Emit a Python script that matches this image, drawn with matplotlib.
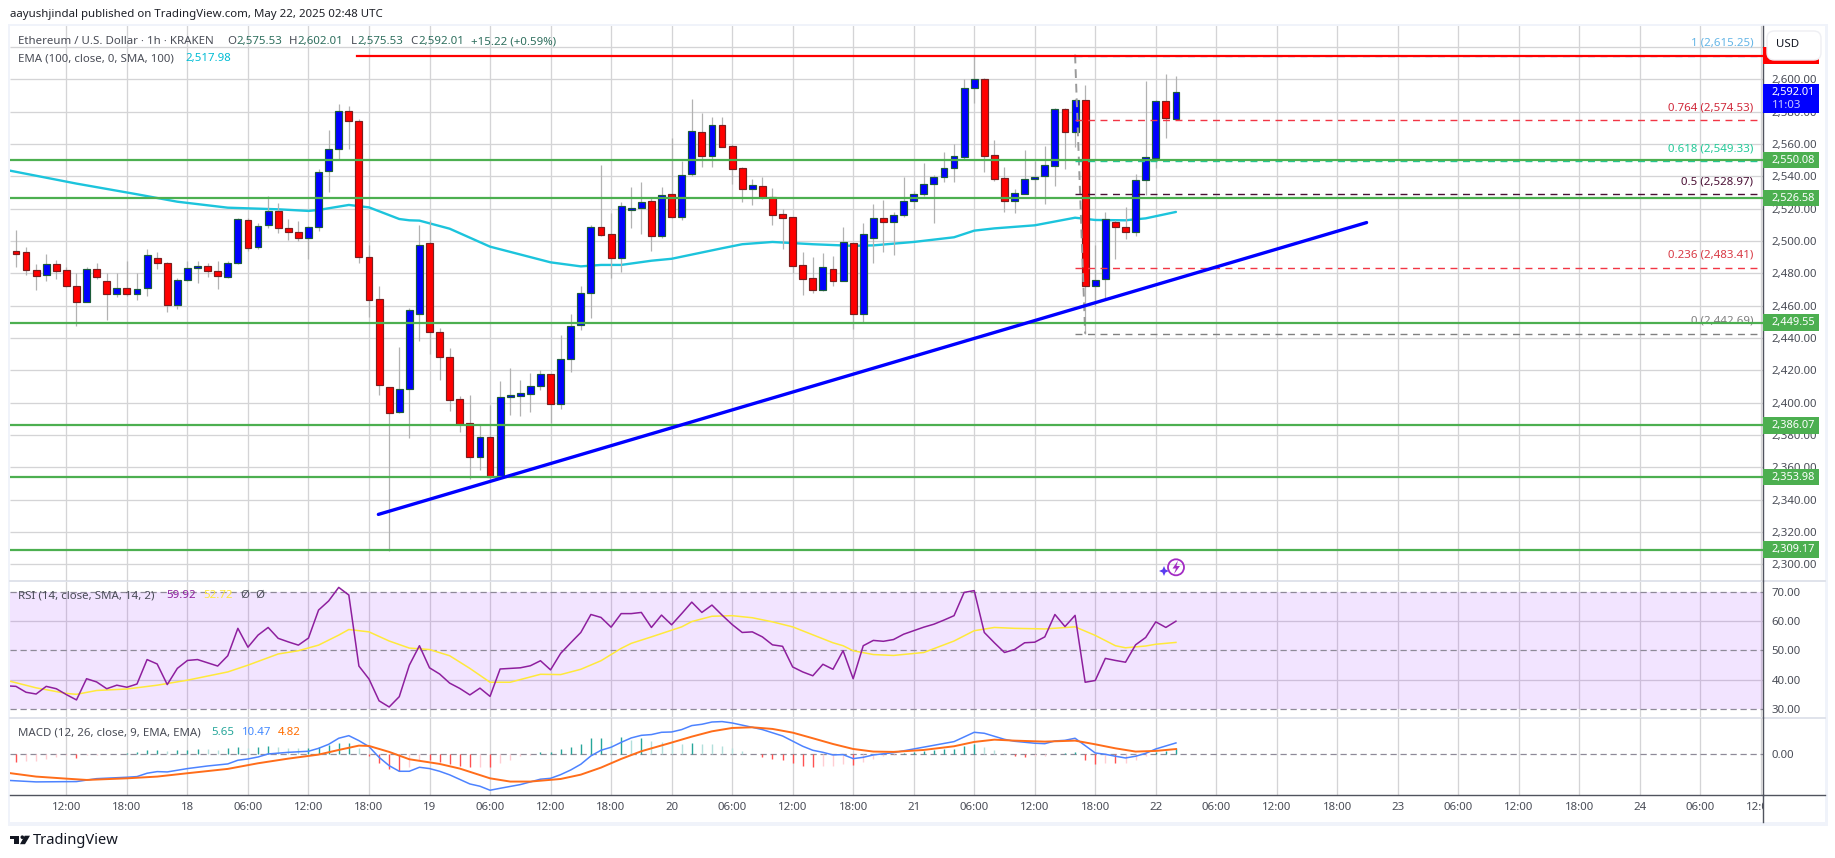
import numpy as np
import matplotlib
matplotlib.use("Agg")
import matplotlib.pyplot as plt
from matplotlib.patches import Rectangle, FancyBboxPatch, Ellipse, Polygon
from matplotlib.lines import Line2D
from matplotlib.transforms import blended_transform_factory

plt.rcParams['font.family'] = ['Noto Sans', 'DejaVu Sans']

W, H = 1835, 858

# hourly bars, hour 0 is May 17 12:00
bar_hours = np.arange(-5, 111)
bar_open = [
    2493.6, 2493.0, 2481.9, 2478.8, 2485.6, 2481.9, 2472.1, 2462.5, 2482.5, 2475.0,
    2467.4, 2470.7, 2467.4, 2470.7, 2489.3, 2486.2, 2460.6, 2475.7, 2483.1, 2484.3,
    2481.2, 2477.5, 2486.2, 2512.8, 2496.1, 2509.7, 2518.4, 2507.8, 2505.4, 2501.6,
    2508.5, 2543.1, 2556.7, 2580.2, 2574.0, 2489.9, 2463.9, 2409.5, 2394.4, 2408.2,
    2455.0, 2498.6, 2443.5, 2428.0, 2402.0, 2387.2, 2366.6, 2378.6, 2354.2, 2403.3,
    2404.3, 2405.6, 2410.1, 2417.5, 2399.4, 2427.2, 2447.8, 2467.6, 2508.5, 2504.1,
    2489.3, 2519.0, 2520.6, 2524.5, 2502.9, 2528.9, 2514.6, 2541.2, 2567.2, 2552.8,
    2571.5, 2558.6, 2544.9, 2532.4, 2533.8, 2527.0, 2516.5, 2514.6, 2484.9, 2476.9,
    2469.5, 2482.5, 2475.5, 2498.6, 2454.6, 2502.1, 2514.0, 2512.0, 2515.9, 2524.5,
    2529.3, 2535.1, 2539.4, 2544.9, 2551.8, 2594.4, 2600.0, 2553.0, 2538.8, 2525.0,
    2529.3, 2538.1, 2540.2, 2546.6, 2581.4, 2567.6, 2587.0, 2472.4, 2476.3, 2512.0,
    2508.9, 2505.8, 2537.5, 2551.5, 2586.4, 2575.53]
bar_high = [
    2506.8, 2496.3, 2485.6, 2492.0, 2488.0, 2484.1, 2480.0, 2484.0, 2486.2, 2480.0,
    2480.0, 2487.6, 2480.0, 2495.0, 2493.2, 2487.0, 2477.0, 2487.6, 2487.6, 2486.2,
    2487.4, 2487.4, 2514.0, 2514.0, 2510.9, 2527.8, 2523.3, 2513.4, 2512.2, 2509.0,
    2544.3, 2568.7, 2584.5, 2583.3, 2575.3, 2497.5, 2472.4, 2410.0, 2434.4, 2458.5,
    2509.9, 2513.0, 2446.0, 2433.6, 2404.0, 2404.7, 2386.2, 2398.6, 2413.4, 2421.4,
    2414.0, 2418.1, 2420.2, 2418.0, 2441.9, 2454.8, 2472.2, 2510.0, 2546.8, 2517.1,
    2524.3, 2533.4, 2536.3, 2527.0, 2533.4, 2563.5, 2549.5, 2587.6, 2579.0, 2576.5,
    2576.5, 2560.0, 2546.0, 2538.1, 2539.8, 2532.8, 2519.6, 2515.0, 2493.2, 2490.1,
    2492.6, 2490.7, 2508.7, 2499.0, 2511.1, 2522.9, 2525.2, 2518.0, 2539.6, 2531.0,
    2548.0, 2540.8, 2555.0, 2559.8, 2600.0, 2615.25, 2600.6, 2562.5, 2545.6, 2532.2,
    2556.3, 2549.5, 2558.8, 2582.0, 2582.0, 2588.0, 2596.5, 2497.5, 2517.7, 2513.0,
    2520.8, 2541.2, 2599.0, 2587.0, 2603.3, 2602.01]
bar_low = [
    2484.1, 2479.2, 2469.9, 2475.5, 2476.7, 2471.5, 2447.6, 2462.0, 2476.5, 2451.3,
    2465.6, 2466.0, 2463.7, 2466.0, 2482.5, 2456.3, 2458.0, 2475.0, 2474.2, 2477.5,
    2470.5, 2477.0, 2486.0, 2494.0, 2495.0, 2508.0, 2504.7, 2500.4, 2499.8, 2488.7,
    2506.4, 2530.5, 2550.5, 2556.9, 2486.2, 2453.2, 2404.7, 2308.4, 2393.5, 2378.4,
    2438.4, 2430.1, 2414.0, 2395.0, 2382.0, 2353.0, 2358.4, 2352.5, 2353.0, 2392.4,
    2392.0, 2394.4, 2407.8, 2387.2, 2396.3, 2419.2, 2445.0, 2452.6, 2503.0, 2476.9,
    2481.0, 2508.2, 2504.3, 2494.0, 2502.0, 2514.0, 2513.2, 2540.0, 2546.0, 2546.0,
    2558.0, 2535.3, 2524.1, 2522.3, 2526.0, 2509.9, 2495.0, 2480.0, 2466.8, 2468.0,
    2469.0, 2472.4, 2475.0, 2445.4, 2450.1, 2486.6, 2493.2, 2491.5, 2515.0, 2520.0,
    2527.8, 2511.3, 2536.7, 2536.7, 2551.0, 2585.2, 2542.9, 2537.0, 2518.1, 2517.5,
    2529.0, 2527.0, 2523.1, 2534.2, 2544.5, 2558.4, 2442.69, 2460.0, 2464.5, 2488.9,
    2501.2, 2503.3, 2528.5, 2545.2, 2563.9, 2575.53]
bar_close = [
    2492.2, 2481.9, 2478.1, 2485.6, 2481.2, 2472.0, 2462.5, 2482.5, 2477.5, 2467.4,
    2470.7, 2467.4, 2470.1, 2491.1, 2486.2, 2460.6, 2475.7, 2483.1, 2484.3, 2481.2,
    2478.1, 2486.2, 2513.4, 2495.5, 2509.1, 2518.4, 2507.8, 2505.4, 2501.6, 2508.5,
    2542.5, 2556.7, 2580.2, 2574.0, 2489.9, 2463.7, 2411.1, 2393.8, 2408.2, 2457.1,
    2497.3, 2443.9, 2428.5, 2401.9, 2386.8, 2366.6, 2378.6, 2354.2, 2403.3, 2404.5,
    2405.8, 2410.1, 2417.5, 2399.4, 2426.8, 2447.2, 2467.6, 2508.5, 2503.9, 2489.3,
    2521.4, 2520.6, 2523.9, 2502.9, 2528.2, 2514.6, 2540.6, 2567.8, 2552.8, 2571.5,
    2558.4, 2544.7, 2532.4, 2534.4, 2527.0, 2516.3, 2514.4, 2484.7, 2476.3, 2469.9,
    2483.7, 2475.5, 2499.2, 2454.6, 2504.1, 2514.0, 2512.0, 2515.9, 2524.5, 2529.3,
    2535.1, 2539.6, 2544.9, 2552.4, 2594.4, 2600.0, 2552.8, 2538.1, 2525.0, 2529.5,
    2538.1, 2539.4, 2546.8, 2581.4, 2567.6, 2587.0, 2472.4, 2475.7, 2513.4, 2508.9,
    2505.8, 2537.5, 2551.8, 2586.4, 2576.3, 2592.01]

ema_hours = [-6, 1, 7, 11, 16, 21, 24, 25, 28, 30, 33, 34, 35, 38, 42, 48, 51, 53, 55, 58,
             60, 65, 67, 70, 74, 78, 80, 84, 88, 90, 92, 96, 100, 102, 105, 107, 110]
ema_values = [2544.0, 2535.5, 2528.9, 2524.3, 2520.6, 2519.6, 2518.6, 2519.2, 2522.3, 2520.8,
              2513.6, 2512.8, 2512.6, 2507.6, 2496.5, 2486.8, 2484.3, 2485.2, 2485.2, 2487.8,
              2489.0, 2495.5, 2498.0, 2499.4, 2498.0, 2497.0, 2497.3, 2499.4, 2502.3, 2506.4,
              2507.8, 2509.7, 2514.4, 2513.0, 2512.8, 2514.0, 2517.98]

support_levels = [2550.08, 2526.58, 2449.55, 2386.07, 2353.98, 2309.17]
resistance_level = 2614.6
trend_hours = [30.93, 128.9]
trend_prices = [2330.9, 2511.4]

fib_ratios = ['1', '0.764', '0.618', '0.5', '0.236', '0']
fib_prices = [2615.25, 2574.53, 2549.33, 2528.97, 2483.41, 2442.69]
fib_colors = ['#64b5e6', '#f23645', '#22c997', '#4a1035', '#f23645', '#808080']
fib_text_colors = ['#64b5e6', '#d0283a', '#22c997', '#4a1035', '#d83a45', '#808080']

rsi_hours = np.arange(-6, 111)
rsi_values = [
    38.0, 37.8, 35.8, 35.2, 37.8, 37.0, 35.0, 33.2, 40.4, 39.3, 37.0, 38.2, 37.5, 38.6, 46.9, 45.4,
    38.4, 43.9, 46.6, 46.9, 45.8, 44.7, 48.2, 57.5, 51.1, 55.2, 57.8, 54.1, 52.9, 51.8, 54.2, 63.7,
    66.8, 71.4, 68.8, 44.7, 40.3, 32.9, 30.8, 34.3, 45.0, 51.6, 44.1, 42.0, 38.9, 37.1, 34.9, 37.2,
    34.4, 43.7, 43.9, 44.1, 44.8, 46.5, 43.4, 49.0, 52.6, 56.1, 62.2, 61.2, 57.9, 62.5, 62.5, 62.9,
    57.8, 62.0, 58.7, 62.5, 66.4, 62.9, 65.4, 62.0, 58.8, 56.1, 56.3, 54.6, 51.9, 51.4, 44.4, 42.7,
    41.4, 45.3, 43.6, 49.9, 40.4, 51.6, 53.4, 53.1, 53.7, 55.5, 56.7, 57.9, 58.9, 60.3, 61.8, 69.7,
    70.3, 56.1, 52.6, 49.3, 50.3, 52.6, 52.8, 54.6, 62.2, 58.1, 61.9, 39.2, 39.8, 47.3, 46.6, 46.0,
    51.9, 54.4, 59.7, 57.8, 59.92]
rsi_ma_hours = [-6, -3, 0, 1, 3, 6, 9, 12, 16, 18, 21, 23, 25, 27, 28, 30, 32, 34, 36, 38, 40, 42,
                44, 47, 49, 51, 53, 55, 56, 58, 61, 62, 64, 66, 68, 70, 72, 76, 77, 78, 80, 82,
                85, 88, 90, 92, 94, 97, 100, 102, 104, 105, 107, 108, 110]
rsi_ma_values = [39.9, 37.3, 35.4, 35.1, 36.4, 36.9, 38.2, 39.9, 42.7, 45.0, 48.8, 49.9, 51.8, 55.2,
                 57.1, 56.3, 53.2, 50.8, 50.3, 48.2, 43.9, 39.2, 39.2, 41.9, 41.8, 43.6, 46.5, 50.7,
                 52.4, 54.6, 58.0, 59.8, 61.6, 61.8, 61.1, 59.7, 58.0, 52.6, 51.6, 49.9, 48.6, 48.3,
                 49.3, 53.2, 56.7, 57.8, 57.5, 57.3, 58.0, 55.1, 51.6, 50.9, 51.5, 52.1, 52.72]

macd_hours = [-6, -3, 1, 3, 6, 7, 8, 9, 10, 12, 14, 16, 17, 18, 19, 20, 22, 24, 25, 26, 27, 28, 29,
              30, 31, 32, 33, 34, 35, 36, 37, 38, 40, 41, 42, 43, 45, 47, 48, 49, 50, 51, 52, 53,
              54, 55, 56, 57, 58, 59, 60, 61, 62, 63, 64, 65, 66, 68, 69, 71, 73, 74, 75, 76, 77,
              78, 79, 80, 82, 84, 86, 88, 89, 90, 91, 93, 94, 96, 97, 98, 99, 100, 101, 102, 103,
              104, 105, 106, 107, 108, 109, 110]
macd_values = [-24.0, -25.5, -25.2, -22.5, -21.2, -20.6, -17.5, -16.0, -16.3, -13.2, -10.8, -8.9,
               -5.5, -4.3, -2.5, 0.3, 1.8, 2.8, 5.5, 9.2, 14.8, 17.2, 12.6, 7.1, -2.8, -10.5, -15.7,
               -15.7, -12.0, -13.2, -15.7, -19.0, -27.4, -29.5, -33.2, -31.4, -28.0, -23.0, -22.2,
               -18.8, -14.5, -9.2, -1.5, 3.7, 6.5, 11.0, 15.1, 17.5, 18.2, 20.3, 20.6, 22.8, 26.5,
               27.7, 29.8, 30.2, 28.9, 24.9, 22.8, 16.9, 7.4, 3.7, 1.8, -0.6, -0.3, -4.0, -2.8,
               -0.6, 1.5, 4.9, 8.3, 11.7, 16.0, 20.3, 19.4, 13.8, 12.0, 10.2, 9.8, 12.3, 12.9, 14.8,
               8.0, 1.2, 0.0, -1.8, -3.4, -1.8, 0.9, 4.9, 7.7, 10.47]
signal_hours = [-6, -3, 0, 2, 6, 9, 12, 16, 19, 22, 25, 27, 29, 30, 32, 34, 37, 39, 42, 44, 46, 49,
                51, 53, 55, 57, 60, 62, 64, 66, 68, 70, 72, 74, 76, 78, 80, 82, 85, 88, 90, 92, 94,
                97, 100, 102, 104, 106, 108, 110]
signal_values = [-16.9, -20.6, -22.5, -23.7, -22.2, -20.6, -17.5, -13.5, -8.3, -4.0, -0.3, 4.0, 8.0,
                 7.7, 2.2, -4.6, -8.9, -13.2, -22.2, -25.2, -25.2, -22.8, -18.8, -12.3, -4.3, 2.8,
                 10.8, 16.3, 21.2, 24.3, 24.9, 23.4, 20.0, 14.8, 9.5, 4.9, 2.5, 2.2, 4.0, 7.4, 11.4,
                 13.5, 12.6, 11.7, 12.6, 9.2, 5.5, 2.5, 3.1, 4.82]
hist_values = [
    -6.8, -6.2, -6.1, -4.3, -2.8, -0.9, -3.4, -0.9, -0.6, 0.3,
    0.6, 0.9, 2.2, 4.0, 4.1, 3.4, 3.7, 3.8, 5.2, 4.9,
    4.0, 5.5, 6.8, 6.2, 6.8, 7.7, 6.8, 6.2, 5.5, 5.6,
    6.8, 8.3, 10.1, 10.2, 5.5, -1.2, -7.7, -13.5, -15.4, -11.4,
    -5.2, -5.5, -6.8, -8.9, -10.5, -11.4, -11.3, -11.4, -8.0, -4.9,
    -1.2, -0.3, 1.8, 1.9, 4.9, 6.5, 9.5, 14.8, 14.8, 12.3,
    16.0, 13.2, 15.4, 12.0, 11.1, 10.2, 9.5, 10.2, 9.8, 9.5,
    7.7, 6.2, 3.1, 0.6, -2.2, -4.3, -4.9, -7.7, -10.5, -11.4,
    -10.5, -10.4, -8.6, -9.5, -6.8, -4.3, -1.8, -0.6, 1.2, 2.2,
    3.4, 4.0, 5.2, 5.3, 7.7, 9.5, 6.5, 4.0, 0.9, -1.2,
    -2.2, -1.5, -1.2, 0.6, 0.9, 1.8, -5.2, -8.6, -7.7, -7.8,
    -7.7, -4.9, -1.8, 2.5, 3.4, 5.65]

label_hours = np.arange(0, 169, 6)
label_texts = ['12:00', '18:00', '18', '06:00', '12:00', '18:00', '19', '06:00', '12:00', '18:00',
               '20', '06:00', '12:00', '18:00', '21', '06:00', '12:00', '18:00', '22', '06:00',
               '12:00', '18:00', '23', '06:00', '12:00', '18:00', '24', '06:00', '12:00']
price_grid = np.arange(2300, 2621, 20)
price_labels = np.arange(2300, 2601, 20)
rsi_ticks = [30, 40, 50, 60, 70]

GRID = '#d4d4d6'
TXT = '#4a4d57'
GREEN = '#4caf50'
BLUE = '#0000ff'
RED = '#ff0000'
FS = 8.25

fig = plt.figure(figsize=(W / 100, H / 100), dpi=100, facecolor='white')


def pane(top, bottom, left=10, right=1763):
    return fig.add_axes([left / W, 1 - bottom / H, (right - left) / W, (bottom - top) / H])


def px_rect(x0, y0, x1, y1, **kw):
    r = Rectangle((x0 / W, 1 - y1 / H), (x1 - x0) / W, (y1 - y0) / H,
                  transform=fig.transFigure, **kw)
    fig.add_artist(r)
    return r


def px_round(x, y, r, **kw):
    e = Ellipse((x / W, 1 - y / H), 2 * r / W, 2 * r / H, transform=fig.transFigure, **kw)
    fig.add_artist(e)
    return e


def px_poly(points, **kw):
    p = Polygon([(x / W, 1 - y / H) for x, y in points], transform=fig.transFigure,
                edgecolor='none', **kw)
    fig.add_artist(p)
    return p


def px_text(x, y, s, **kw):
    kw.setdefault('color', TXT)
    kw.setdefault('fontsize', FS)
    kw.setdefault('va', 'center')
    fig.text(x / W, 1 - y / H, s, **kw)


px_rect(8, 24, 1828, 826, facecolor='#f0f3fa', edgecolor='none', zorder=-2)
px_rect(10, 26, 1825, 822, facecolor='white', edgecolor='none', zorder=-1)

ax = pane(26, 580.7)
ax_rsi = pane(581.5, 717.3)
ax_macd = pane(718, 795)
ax_time = pane(795, 822)

x_lim = (-5.59, 168.2)
for a in (ax, ax_rsi, ax_macd, ax_time):
    a.set_xlim(*x_lim)
    a.set_axisbelow(True)
    a.patch.set_alpha(0)
    for s in ('top', 'left', 'bottom'):
        a.spines[s].set_visible(False)
    a.spines['right'].set_color('#50535e')
    a.spines['right'].set_linewidth(1.0)
    a.yaxis.tick_right()
    a.tick_params(length=0, labelsize=FS, labelcolor=TXT, pad=6.2)
    a.set_xticks(label_hours)
    a.set_xticklabels([])

for a in (ax, ax_rsi, ax_macd):
    a.grid(axis='x', color=GRID, lw=0.95)

# price pane
ax.set_ylim(2289.9, 2632.97)
ax.set_yticks(price_labels)
ax.set_yticklabels([f'{v:,.2f}' for v in price_labels])
ax.hlines(price_grid, *x_lim, color=GRID, lw=0.95, zorder=0.6)

ax.plot(ema_hours, ema_values, color='#1cc4dc', lw=1.7, zorder=2, solid_capstyle='round')

o = np.array(bar_open)
c = np.array(bar_close)
up = c >= o
ax.vlines(bar_hours, bar_low, bar_high, color='#b2b2b2', lw=0.9, zorder=2.5)
ax.bar(bar_hours[up], (c - o)[up], bottom=o[up], width=0.68, color=BLUE,
       edgecolor='#1c5c3a', lw=0.85, zorder=3)
ax.bar(bar_hours[~up], (c - o)[~up], bottom=o[~up], width=0.68, color=RED,
       edgecolor='#7a1f1f', lw=0.85, zorder=3)

# fib retracement
fib_start = 100
for ratio, price, col, tcol in zip(fib_ratios, fib_prices, fib_colors, fib_text_colors):
    y_line = resistance_level if ratio == '1' else price
    ax.plot([fib_start, x_lim[1]], [y_line, y_line], color=col, lw=1.0, dashes=(5, 4), zorder=4)
    ax.text(168.2 - 0.95, y_line + 7.7, f'{ratio} ({price:,.2f})', ha='right', va='center',
            color=tcol, fontsize=FS, zorder=4.5)
ax.plot([fib_start, 101], [fib_prices[0], fib_prices[-1]], color='#9a9a9a', lw=1.4,
        dashes=(4.5, 3), zorder=3.5)

ax.hlines(support_levels, x_lim[0], x_lim[1], color=GREEN, lw=1.6, zorder=5)
ax.plot([28.8, x_lim[1]], [resistance_level, resistance_level], color=RED, lw=1.6, zorder=5)
ax.plot(trend_hours, trend_prices, color=BLUE, lw=2.4, zorder=6, solid_capstyle='round')

# price tags on the axis
tr = blended_transform_factory(ax.transAxes, ax.transData)
tag_w = 56 / 1753
for level in support_levels:
    ax.add_patch(Rectangle((1, level - 5.2), tag_w, 10.4, transform=tr, facecolor=GREEN,
                           edgecolor='none', clip_on=False, zorder=7))
    ax.text(1 + 8.5 / 1753, level, f'{level:,.2f}', transform=tr, color='white', fontsize=7.9,
            fontweight='bold', va='center', ha='left', zorder=8, clip_on=False)
ax.add_patch(Rectangle((1, resistance_level - 5.2), tag_w, 10.4, transform=tr, facecolor=RED,
                       edgecolor='none', clip_on=False, zorder=7))
ax.add_patch(Rectangle((1, 2579.2), tag_w, 17.9, transform=tr, facecolor=BLUE,
                       edgecolor='none', clip_on=False, zorder=7))
ax.text(1 + 8.5 / 1753, bar_close[-1], f'{bar_close[-1]:,.2f}', transform=tr, color='white',
        fontsize=7.9, fontweight='bold', va='center', ha='left', zorder=8, clip_on=False)
ax.text(1 + 8.5 / 1753, 2584.0, '11:03', transform=tr, color='#c8c8ff', fontsize=FS,
        va='center', ha='left', zorder=8, clip_on=False)

fig.add_artist(FancyBboxPatch((1767 / W, 1 - 60 / H), 54 / W, 29 / H,
                              boxstyle='round,pad=0,rounding_size=0.004',
                              transform=fig.transFigure, facecolor='white',
                              edgecolor='#eeeff3', lw=1, zorder=5, mutation_aspect=W / H))
px_text(1776, 44.5, 'USD', color='#131722', zorder=6)

# rsi pane
ax_rsi.set_ylim(27.3, 73.4)
ax_rsi.set_yticks(rsi_ticks)
ax_rsi.set_yticklabels([f'{v:.2f}' for v in rsi_ticks])
ax_rsi.axhspan(30, 70, color='#9c27ff', alpha=0.12, lw=0, zorder=0.8)
ax_rsi.hlines([40, 60], *x_lim, color=GRID, lw=0.95, zorder=0.6)
ax_rsi.hlines([30, 50, 70], *x_lim, color='#8e8a98', lw=0.9, linestyles=(0, (5, 3)), zorder=1)
ax_rsi.plot(rsi_ma_hours, rsi_ma_values, color='#ffe93b', lw=1.1, zorder=2)
ax_rsi.plot(rsi_hours, rsi_values, color='#8e1f9e', lw=1.1, zorder=3)

# macd pane
ax_macd.set_ylim(-37.6, 33.5)
ax_macd.set_yticks([0])
ax_macd.set_yticklabels(['0.00'])
ax_macd.hlines(0, *x_lim, color='#8e8a98', lw=0.9, linestyles=(0, (5, 3)), zorder=1)
hist = np.array(hist_values)
prev = np.r_[hist[0] + (1 if hist[0] < 0 else -1), hist[:-1]]
hist_colors = np.where(hist >= 0, np.where(hist >= prev, '#26a69a', '#b2dfdb'),
                       np.where(hist < prev, '#ff5252', '#ffcdd2'))
ax_macd.vlines(bar_hours, 0, hist, colors=hist_colors, lw=1.0, zorder=2)
ax_macd.plot(macd_hours, macd_values, color='#4d83ff', lw=1.1, zorder=3)
ax_macd.plot(signal_hours, signal_values, color='#ff6d1a', lw=1.4, zorder=3)

# time axis
ax_time.set_xticks([])
ax_time.set_yticks([])
ax_time.set_ylim(0, 1)
ax_time.spines['top'].set_visible(True)
ax_time.spines['top'].set_color('#50535e')
ax_time.spines['top'].set_linewidth(1.0)
time_tr = blended_transform_factory(ax_time.transData, ax_time.transAxes)
for hour, label in zip(label_hours, label_texts):
    ax_time.text(hour, 0.52, label, transform=time_tr, ha='center', va='center', color=TXT,
                 fontsize=FS, clip_on=True)
fig.add_artist(Line2D([1763 / W, 1825 / W], [1 - 795 / H] * 2, color='#50535e', lw=1.0))

# pane separators
for y_sep in (581, 717.6):
    fig.add_artist(Line2D([10 / W, 1825 / W], [1 - y_sep / H] * 2, color='#e0e3eb', lw=1.4, zorder=-0.5))

# header and legends
px_text(10, 15, 'aayushjindal published on TradingView.com, May 22, 2025 02:48 UTC', color='#1f2128')
px_text(18, 41.7, 'Ethereum / U.S. Dollar · 1h · KRAKEN')
val_col = '#2f6f5e'
for x_l, letter, x_v, value in [(227, 'O', 236, '2,575.53'), (288.7, 'H', 297, '2,602.01'),
                                (350.7, 'L', 357, '2,575.53'), (410, 'C', 418, '2,592.01')]:
    px_text(x_l, 41.7, letter)
    px_text(x_v, 41.7, value, color=val_col)
px_text(471.3, 41.7, '+15.22 (+0.59%)', color=val_col)
px_text(18, 58.7, 'EMA (100, close, 0, SMA, 100)')
px_text(185, 58.7, f'{ema_values[-1]:,.2f}', color='#00bcd4')

px_text(18, 595.7, 'RSI (14, close, SMA, 14, 2)')
px_text(166, 595.7, f'{rsi_values[-1]:.2f}', color='#8e1f9e')
px_text(202.8, 595.7, f'{rsi_ma_values[-1]:.2f}', color='#ffe93b')
px_text(240, 595.7, 'Ø')
px_text(255.4, 595.7, 'Ø')

px_text(18, 732.7, 'MACD (12, 26, close, 9, EMA, EMA)')
px_text(210.8, 732.7, f'{hist_values[-1]:.2f}', color='#26a69a')
px_text(241.6, 732.7, f'{macd_values[-1]:.2f}', color='#448aff')
px_text(278, 732.7, f'{signal_values[-1]:.2f}', color='#ff6d00')

# flash icon
px_round(1176, 567.3, 8, fill=False, edgecolor='#a32cc4', lw=1.3, zorder=5)
px_poly([(1178, 560.5), (1172.5, 568.5), (1176, 568.5), (1174, 574), (1180, 566), (1176.5, 566)],
        facecolor='#a32cc4', zorder=5)
px_poly([(1164, 566), (1165.5, 569.5), (1169, 571), (1165.5, 572.5), (1164, 576), (1162.5, 572.5),
         (1159, 571), (1162.5, 569.5)], facecolor='#5a3df0', zorder=5)

# tradingview logo
px_poly([(10, 835.7), (19.3, 835.7), (19.3, 844.2), (14.3, 844.2), (14.3, 839), (10, 839)],
        facecolor='#131722')
px_poly([(24.7, 835.7), (30, 835.7), (25, 844.2), (20, 844.2)], facecolor='#131722')
px_round(22.3, 837.2, 1.8, facecolor='#131722', edgecolor='none')
px_text(33, 841, 'TradingView', color='#131722', fontsize=10.6)

fig.savefig('out.png', dpi=100)
